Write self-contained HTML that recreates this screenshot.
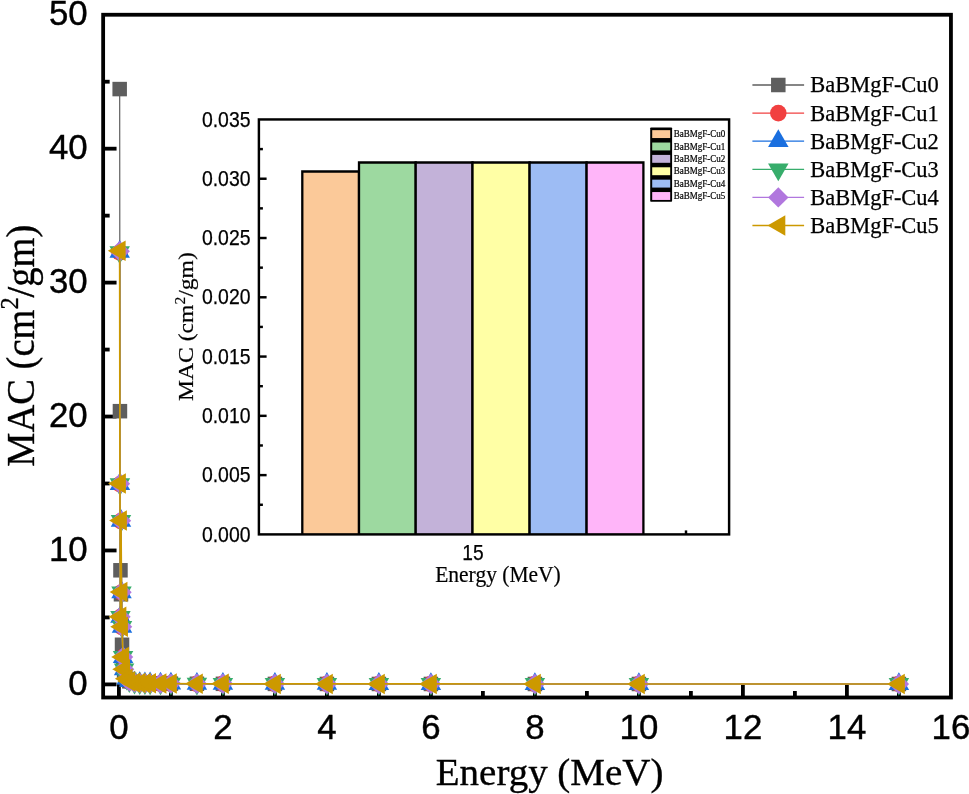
<!DOCTYPE html>
<html lang="en"><head><meta charset="utf-8"><title>MAC vs Energy</title>
<style>html,body{margin:0;padding:0;background:#fff;}body{width:969px;height:794px;overflow:hidden;}svg{display:block;will-change:transform;}.sans{font-family:"Liberation Sans",Arial,sans-serif;}.serif{font-family:"Liberation Serif","Times New Roman",serif;}</style></head><body>
<svg width="969" height="794" viewBox="0 0 969 794">
<rect width="969" height="794" fill="#fff"/>
<g stroke="#000" stroke-width="3.8" fill="none"><line x1="118.90" y1="697.5" x2="118.90" y2="684.10"/><line x1="170.90" y1="697.5" x2="170.90" y2="691.00"/><line x1="222.90" y1="697.5" x2="222.90" y2="684.10"/><line x1="274.90" y1="697.5" x2="274.90" y2="691.00"/><line x1="326.90" y1="697.5" x2="326.90" y2="684.10"/><line x1="378.90" y1="697.5" x2="378.90" y2="691.00"/><line x1="430.90" y1="697.5" x2="430.90" y2="684.10"/><line x1="482.90" y1="697.5" x2="482.90" y2="691.00"/><line x1="534.90" y1="697.5" x2="534.90" y2="684.10"/><line x1="586.90" y1="697.5" x2="586.90" y2="691.00"/><line x1="638.90" y1="697.5" x2="638.90" y2="684.10"/><line x1="690.90" y1="697.5" x2="690.90" y2="691.00"/><line x1="742.90" y1="697.5" x2="742.90" y2="684.10"/><line x1="794.90" y1="697.5" x2="794.90" y2="691.00"/><line x1="846.90" y1="697.5" x2="846.90" y2="684.10"/><line x1="898.90" y1="697.5" x2="898.90" y2="691.00"/><line x1="103.15" y1="684.40" x2="116.55" y2="684.40"/><line x1="103.15" y1="617.43" x2="109.65" y2="617.43"/><line x1="103.15" y1="550.47" x2="116.55" y2="550.47"/><line x1="103.15" y1="483.50" x2="109.65" y2="483.50"/><line x1="103.15" y1="416.54" x2="116.55" y2="416.54"/><line x1="103.15" y1="349.57" x2="109.65" y2="349.57"/><line x1="103.15" y1="282.61" x2="116.55" y2="282.61"/><line x1="103.15" y1="215.64" x2="109.65" y2="215.64"/><line x1="103.15" y1="148.68" x2="116.55" y2="148.68"/><line x1="103.15" y1="81.71" x2="109.65" y2="81.71"/></g>
<rect x="103.15" y="14.75" width="847.80" height="682.75" fill="none" stroke="#000" stroke-width="3.8"/>
<g><polyline points="119.68,89.08 119.94,411.18 120.46,570.29 120.98,594.27 121.50,622.79 122.02,644.76 123.06,662.97 124.10,671.01 126.70,679.04 129.30,681.32 134.50,682.66 139.70,683.06 144.90,683.23 150.10,683.36 160.50,683.50 170.90,683.61 196.90,683.76 222.90,683.82 274.90,683.90 326.90,683.94 378.90,683.96 430.90,683.97 534.90,683.98 638.90,683.98 898.90,683.99" fill="none" stroke="#5e5e5e" stroke-width="1.2" stroke-linejoin="round"/>
<rect x="112.43" y="81.83" width="14.5" height="14.5" fill="#5e5e5e"/><rect x="112.69" y="403.93" width="14.5" height="14.5" fill="#5e5e5e"/><rect x="113.21" y="563.04" width="14.5" height="14.5" fill="#5e5e5e"/><rect x="113.73" y="587.02" width="14.5" height="14.5" fill="#5e5e5e"/><rect x="114.25" y="615.54" width="14.5" height="14.5" fill="#5e5e5e"/><rect x="114.77" y="637.51" width="14.5" height="14.5" fill="#5e5e5e"/><rect x="115.81" y="655.72" width="14.5" height="14.5" fill="#5e5e5e"/><rect x="116.85" y="663.76" width="14.5" height="14.5" fill="#5e5e5e"/><rect x="119.45" y="671.79" width="14.5" height="14.5" fill="#5e5e5e"/><rect x="122.05" y="674.07" width="14.5" height="14.5" fill="#5e5e5e"/><rect x="127.25" y="675.41" width="14.5" height="14.5" fill="#5e5e5e"/><rect x="132.45" y="675.81" width="14.5" height="14.5" fill="#5e5e5e"/><rect x="137.65" y="675.98" width="14.5" height="14.5" fill="#5e5e5e"/><rect x="142.85" y="676.11" width="14.5" height="14.5" fill="#5e5e5e"/><rect x="153.25" y="676.25" width="14.5" height="14.5" fill="#5e5e5e"/><rect x="163.65" y="676.36" width="14.5" height="14.5" fill="#5e5e5e"/><rect x="189.65" y="676.51" width="14.5" height="14.5" fill="#5e5e5e"/><rect x="215.65" y="676.57" width="14.5" height="14.5" fill="#5e5e5e"/><rect x="267.65" y="676.65" width="14.5" height="14.5" fill="#5e5e5e"/><rect x="319.65" y="676.69" width="14.5" height="14.5" fill="#5e5e5e"/><rect x="371.65" y="676.71" width="14.5" height="14.5" fill="#5e5e5e"/><rect x="423.65" y="676.72" width="14.5" height="14.5" fill="#5e5e5e"/><rect x="527.65" y="676.73" width="14.5" height="14.5" fill="#5e5e5e"/><rect x="631.65" y="676.73" width="14.5" height="14.5" fill="#5e5e5e"/><rect x="891.65" y="676.74" width="14.5" height="14.5" fill="#5e5e5e"/></g>
<g><polyline points="119.68,252.47 119.94,484.25 120.46,617.02 120.98,521.08 121.50,592.46 122.02,627.02 123.06,657.05 124.10,669.32 126.70,678.66 129.30,681.20 134.50,682.67 139.70,683.07 144.90,683.24 150.10,683.36 160.50,683.51 170.90,683.61 196.90,683.76 222.90,683.83 274.90,683.91 326.90,683.95 378.90,683.96 430.90,683.97 534.90,683.99 638.90,683.99 898.90,683.98" fill="none" stroke="#f14040" stroke-width="1.4" stroke-linejoin="round"/>
<circle cx="119.68" cy="252.47" r="8.3" fill="#f14040"/><circle cx="119.94" cy="484.25" r="8.3" fill="#f14040"/><circle cx="120.46" cy="617.02" r="8.3" fill="#f14040"/><circle cx="120.98" cy="521.08" r="8.3" fill="#f14040"/><circle cx="121.50" cy="592.46" r="8.3" fill="#f14040"/><circle cx="122.02" cy="627.02" r="8.3" fill="#f14040"/><circle cx="123.06" cy="657.05" r="8.3" fill="#f14040"/><circle cx="124.10" cy="669.32" r="8.3" fill="#f14040"/><circle cx="126.70" cy="678.66" r="8.3" fill="#f14040"/><circle cx="129.30" cy="681.20" r="8.3" fill="#f14040"/><circle cx="134.50" cy="682.67" r="8.3" fill="#f14040"/><circle cx="139.70" cy="683.07" r="8.3" fill="#f14040"/><circle cx="144.90" cy="683.24" r="8.3" fill="#f14040"/><circle cx="150.10" cy="683.36" r="8.3" fill="#f14040"/><circle cx="160.50" cy="683.51" r="8.3" fill="#f14040"/><circle cx="170.90" cy="683.61" r="8.3" fill="#f14040"/><circle cx="196.90" cy="683.76" r="8.3" fill="#f14040"/><circle cx="222.90" cy="683.83" r="8.3" fill="#f14040"/><circle cx="274.90" cy="683.91" r="8.3" fill="#f14040"/><circle cx="326.90" cy="683.95" r="8.3" fill="#f14040"/><circle cx="378.90" cy="683.96" r="8.3" fill="#f14040"/><circle cx="430.90" cy="683.97" r="8.3" fill="#f14040"/><circle cx="534.90" cy="683.99" r="8.3" fill="#f14040"/><circle cx="638.90" cy="683.99" r="8.3" fill="#f14040"/><circle cx="898.90" cy="683.98" r="8.3" fill="#f14040"/></g>
<g><polyline points="119.68,251.87 119.94,483.97 120.46,616.92 120.98,520.85 121.50,592.33 122.02,626.94 123.06,657.01 124.10,669.30 126.70,678.65 129.30,681.19 134.50,682.66 139.70,683.06 144.90,683.24 150.10,683.36 160.50,683.50 170.90,683.61 196.90,683.76 222.90,683.83 274.90,683.91 326.90,683.95 378.90,683.96 430.90,683.97 534.90,683.99 638.90,683.99 898.90,683.98" fill="none" stroke="#1a6fdf" stroke-width="1.4" stroke-linejoin="round"/>
<polygon points="119.68,240.03 109.43,257.78 129.93,257.78" fill="#1a6fdf"/><polygon points="119.94,472.13 109.69,489.88 130.19,489.88" fill="#1a6fdf"/><polygon points="120.46,605.09 110.21,622.84 130.71,622.84" fill="#1a6fdf"/><polygon points="120.98,509.01 110.73,526.76 131.23,526.76" fill="#1a6fdf"/><polygon points="121.50,580.50 111.25,598.25 131.75,598.25" fill="#1a6fdf"/><polygon points="122.02,615.11 111.77,632.86 132.27,632.86" fill="#1a6fdf"/><polygon points="123.06,645.17 112.81,662.93 133.31,662.93" fill="#1a6fdf"/><polygon points="124.10,657.47 113.85,675.22 134.35,675.22" fill="#1a6fdf"/><polygon points="126.70,666.82 116.45,684.57 136.95,684.57" fill="#1a6fdf"/><polygon points="129.30,669.36 119.05,687.11 139.55,687.11" fill="#1a6fdf"/><polygon points="134.50,670.83 124.25,688.58 144.75,688.58" fill="#1a6fdf"/><polygon points="139.70,671.23 129.45,688.98 149.95,688.98" fill="#1a6fdf"/><polygon points="144.90,671.40 134.65,689.16 155.15,689.16" fill="#1a6fdf"/><polygon points="150.10,671.52 139.85,689.28 160.35,689.28" fill="#1a6fdf"/><polygon points="160.50,671.67 150.25,689.42 170.75,689.42" fill="#1a6fdf"/><polygon points="170.90,671.78 160.65,689.53 181.15,689.53" fill="#1a6fdf"/><polygon points="196.90,671.92 186.65,689.68 207.15,689.68" fill="#1a6fdf"/><polygon points="222.90,671.99 212.65,689.74 233.15,689.74" fill="#1a6fdf"/><polygon points="274.90,672.07 264.65,689.82 285.15,689.82" fill="#1a6fdf"/><polygon points="326.90,672.11 316.65,689.86 337.15,689.86" fill="#1a6fdf"/><polygon points="378.90,672.12 368.65,689.88 389.15,689.88" fill="#1a6fdf"/><polygon points="430.90,672.14 420.65,689.89 441.15,689.89" fill="#1a6fdf"/><polygon points="534.90,672.15 524.65,689.90 545.15,689.90" fill="#1a6fdf"/><polygon points="638.90,672.15 628.65,689.90 649.15,689.90" fill="#1a6fdf"/><polygon points="898.90,672.15 888.65,689.90 909.15,689.90" fill="#1a6fdf"/></g>
<g><polyline points="119.68,252.17 119.94,484.11 120.46,616.97 120.98,520.96 121.50,592.40 122.02,626.98 123.06,657.03 124.10,669.31 126.70,678.66 129.30,681.20 134.50,682.66 139.70,683.06 144.90,683.24 150.10,683.36 160.50,683.51 170.90,683.61 196.90,683.76 222.90,683.83 274.90,683.91 326.90,683.95 378.90,683.96 430.90,683.97 534.90,683.99 638.90,683.99 898.90,683.98" fill="none" stroke="#37ad6b" stroke-width="1.4" stroke-linejoin="round"/>
<polygon points="119.68,264.00 109.43,246.25 129.93,246.25" fill="#37ad6b"/><polygon points="119.94,495.94 109.69,478.19 130.19,478.19" fill="#37ad6b"/><polygon points="120.46,628.80 110.21,611.05 130.71,611.05" fill="#37ad6b"/><polygon points="120.98,532.80 110.73,515.04 131.23,515.04" fill="#37ad6b"/><polygon points="121.50,604.23 111.25,586.48 131.75,586.48" fill="#37ad6b"/><polygon points="122.02,638.82 111.77,621.07 132.27,621.07" fill="#37ad6b"/><polygon points="123.06,668.86 112.81,651.11 133.31,651.11" fill="#37ad6b"/><polygon points="124.10,681.15 113.85,663.39 134.35,663.39" fill="#37ad6b"/><polygon points="126.70,690.49 116.45,672.74 136.95,672.74" fill="#37ad6b"/><polygon points="129.30,693.03 119.05,675.28 139.55,675.28" fill="#37ad6b"/><polygon points="134.50,694.50 124.25,676.75 144.75,676.75" fill="#37ad6b"/><polygon points="139.70,694.90 129.45,677.15 149.95,677.15" fill="#37ad6b"/><polygon points="144.90,695.07 134.65,677.32 155.15,677.32" fill="#37ad6b"/><polygon points="150.10,695.19 139.85,677.44 160.35,677.44" fill="#37ad6b"/><polygon points="160.50,695.34 150.25,677.59 170.75,677.59" fill="#37ad6b"/><polygon points="170.90,695.45 160.65,677.69 181.15,677.69" fill="#37ad6b"/><polygon points="196.90,695.59 186.65,677.84 207.15,677.84" fill="#37ad6b"/><polygon points="222.90,695.66 212.65,677.91 233.15,677.91" fill="#37ad6b"/><polygon points="274.90,695.74 264.65,677.99 285.15,677.99" fill="#37ad6b"/><polygon points="326.90,695.78 316.65,678.03 337.15,678.03" fill="#37ad6b"/><polygon points="378.90,695.79 368.65,678.04 389.15,678.04" fill="#37ad6b"/><polygon points="430.90,695.81 420.65,678.06 441.15,678.06" fill="#37ad6b"/><polygon points="534.90,695.82 524.65,678.07 545.15,678.07" fill="#37ad6b"/><polygon points="638.90,695.82 628.65,678.07 649.15,678.07" fill="#37ad6b"/><polygon points="898.90,695.82 888.65,678.06 909.15,678.06" fill="#37ad6b"/></g>
<g><polyline points="119.68,251.30 119.94,483.71 120.46,616.83 120.98,520.63 121.50,592.21 122.02,626.87 123.06,656.97 124.10,669.28 126.70,678.65 129.30,681.19 134.50,682.66 139.70,683.06 144.90,683.24 150.10,683.36 160.50,683.50 170.90,683.61 196.90,683.76 222.90,683.82 274.90,683.90 326.90,683.95 378.90,683.96 430.90,683.97 534.90,683.99 638.90,683.99 898.90,683.98" fill="none" stroke="#b177de" stroke-width="1.4" stroke-linejoin="round"/>
<polygon points="119.68,241.10 129.88,251.30 119.68,261.50 109.48,251.30" fill="#b177de"/><polygon points="119.94,473.51 130.14,483.71 119.94,493.91 109.74,483.71" fill="#b177de"/><polygon points="120.46,606.63 130.66,616.83 120.46,627.03 110.26,616.83" fill="#b177de"/><polygon points="120.98,510.43 131.18,520.63 120.98,530.83 110.78,520.63" fill="#b177de"/><polygon points="121.50,582.01 131.70,592.21 121.50,602.41 111.30,592.21" fill="#b177de"/><polygon points="122.02,616.67 132.22,626.87 122.02,637.07 111.82,626.87" fill="#b177de"/><polygon points="123.06,646.77 133.26,656.97 123.06,667.17 112.86,656.97" fill="#b177de"/><polygon points="124.10,659.08 134.30,669.28 124.10,679.48 113.90,669.28" fill="#b177de"/><polygon points="126.70,668.45 136.90,678.65 126.70,688.85 116.50,678.65" fill="#b177de"/><polygon points="129.30,670.99 139.50,681.19 129.30,691.39 119.10,681.19" fill="#b177de"/><polygon points="134.50,672.46 144.70,682.66 134.50,692.86 124.30,682.66" fill="#b177de"/><polygon points="139.70,672.86 149.90,683.06 139.70,693.26 129.50,683.06" fill="#b177de"/><polygon points="144.90,673.04 155.10,683.24 144.90,693.44 134.70,683.24" fill="#b177de"/><polygon points="150.10,673.16 160.30,683.36 150.10,693.56 139.90,683.36" fill="#b177de"/><polygon points="160.50,673.30 170.70,683.50 160.50,693.70 150.30,683.50" fill="#b177de"/><polygon points="170.90,673.41 181.10,683.61 170.90,693.81 160.70,683.61" fill="#b177de"/><polygon points="196.90,673.56 207.10,683.76 196.90,693.96 186.70,683.76" fill="#b177de"/><polygon points="222.90,673.62 233.10,683.82 222.90,694.02 212.70,683.82" fill="#b177de"/><polygon points="274.90,673.70 285.10,683.90 274.90,694.10 264.70,683.90" fill="#b177de"/><polygon points="326.90,673.75 337.10,683.95 326.90,694.15 316.70,683.95" fill="#b177de"/><polygon points="378.90,673.76 389.10,683.96 378.90,694.16 368.70,683.96" fill="#b177de"/><polygon points="430.90,673.77 441.10,683.97 430.90,694.17 420.70,683.97" fill="#b177de"/><polygon points="534.90,673.79 545.10,683.99 534.90,694.19 524.70,683.99" fill="#b177de"/><polygon points="638.90,673.79 649.10,683.99 638.90,694.19 628.70,683.99" fill="#b177de"/><polygon points="898.90,673.78 909.10,683.98 898.90,694.18 888.70,683.98" fill="#b177de"/></g>
<g><polyline points="119.68,250.87 119.94,483.50 120.46,616.77 120.98,520.47 121.50,592.12 122.02,626.81 123.06,656.94 124.10,669.27 126.70,678.64 129.30,681.19 134.50,682.66 139.70,683.06 144.90,683.23 150.10,683.36 160.50,683.50 170.90,683.61 196.90,683.76 222.90,683.82 274.90,683.90 326.90,683.94 378.90,683.96 430.90,683.97 534.90,683.98 638.90,683.98 898.90,683.98" fill="none" stroke="#cc9900" stroke-width="1.7" stroke-linejoin="round"/>
<polygon points="107.84,250.87 125.60,240.62 125.60,261.12" fill="#cc9900"/><polygon points="108.10,483.50 125.86,473.25 125.86,493.75" fill="#cc9900"/><polygon points="108.62,616.77 126.38,606.52 126.38,627.02" fill="#cc9900"/><polygon points="109.14,520.47 126.90,510.22 126.90,530.72" fill="#cc9900"/><polygon points="109.66,592.12 127.42,581.87 127.42,602.37" fill="#cc9900"/><polygon points="110.18,626.81 127.94,616.56 127.94,637.06" fill="#cc9900"/><polygon points="111.22,656.94 128.98,646.69 128.98,667.19" fill="#cc9900"/><polygon points="112.26,669.27 130.02,659.02 130.02,679.52" fill="#cc9900"/><polygon points="114.86,678.64 132.62,668.39 132.62,688.89" fill="#cc9900"/><polygon points="117.46,681.19 135.22,670.94 135.22,691.44" fill="#cc9900"/><polygon points="122.66,682.66 140.42,672.41 140.42,692.91" fill="#cc9900"/><polygon points="127.86,683.06 145.62,672.81 145.62,693.31" fill="#cc9900"/><polygon points="133.06,683.23 150.82,672.98 150.82,693.48" fill="#cc9900"/><polygon points="138.26,683.36 156.02,673.11 156.02,693.61" fill="#cc9900"/><polygon points="148.66,683.50 166.42,673.25 166.42,693.75" fill="#cc9900"/><polygon points="159.06,683.61 176.82,673.36 176.82,693.86" fill="#cc9900"/><polygon points="185.06,683.76 202.82,673.51 202.82,694.01" fill="#cc9900"/><polygon points="211.06,683.82 228.82,673.57 228.82,694.07" fill="#cc9900"/><polygon points="263.06,683.90 280.82,673.65 280.82,694.15" fill="#cc9900"/><polygon points="315.06,683.94 332.82,673.69 332.82,694.19" fill="#cc9900"/><polygon points="367.06,683.96 384.82,673.71 384.82,694.21" fill="#cc9900"/><polygon points="419.06,683.97 436.82,673.72 436.82,694.22" fill="#cc9900"/><polygon points="523.06,683.98 540.82,673.73 540.82,694.23" fill="#cc9900"/><polygon points="627.06,683.98 644.82,673.73 644.82,694.23" fill="#cc9900"/><polygon points="887.06,683.98 904.82,673.73 904.82,694.23" fill="#cc9900"/></g>
<g class="sans" font-size="34.8" fill="#000" stroke="#000" stroke-width="0.4">
<text x="118.90" y="739.4" text-anchor="middle">0</text>
<text x="222.90" y="739.4" text-anchor="middle">2</text>
<text x="326.90" y="739.4" text-anchor="middle">4</text>
<text x="430.90" y="739.4" text-anchor="middle">6</text>
<text x="534.90" y="739.4" text-anchor="middle">8</text>
<text x="638.90" y="739.4" text-anchor="middle">10</text>
<text x="742.90" y="739.4" text-anchor="middle">12</text>
<text x="846.90" y="739.4" text-anchor="middle">14</text>
<text x="950.90" y="739.4" text-anchor="middle">16</text>
<text x="87.7" y="695.00" text-anchor="end">0</text>
<text x="87.7" y="561.07" text-anchor="end">10</text>
<text x="87.7" y="427.14" text-anchor="end">20</text>
<text x="87.7" y="293.21" text-anchor="end">30</text>
<text x="87.7" y="159.28" text-anchor="end">40</text>
<text x="87.7" y="25.35" text-anchor="end">50</text>
</g>
<g class="serif" fill="#000" stroke="#000" stroke-width="0.35">
<text x="549.6" y="785.4" font-size="38.5" text-anchor="middle" textLength="227.6" lengthAdjust="spacingAndGlyphs">Energy (MeV)</text>
<text transform="translate(34.4,345.7) rotate(-90)" font-size="39.3" text-anchor="middle" textLength="242" lengthAdjust="spacingAndGlyphs">MAC (cm<tspan font-size="25" dy="-16">2</tspan><tspan dy="16">/gm)</tspan></text>
</g>
<g>
<line x1="752.4" y1="85.00" x2="804.1" y2="85.00" stroke="#5e5e5e" stroke-width="1.3"/>
<rect x="771.05" y="77.75" width="14.5" height="14.5" fill="#5e5e5e"/>
<line x1="752.4" y1="113.10" x2="804.1" y2="113.10" stroke="#f14040" stroke-width="1.3"/>
<circle cx="778.30" cy="113.10" r="8.3" fill="#f14040"/>
<line x1="752.4" y1="141.20" x2="804.1" y2="141.20" stroke="#1a6fdf" stroke-width="1.3"/>
<polygon points="778.30,129.36 768.05,147.12 788.55,147.12" fill="#1a6fdf"/>
<line x1="752.4" y1="169.30" x2="804.1" y2="169.30" stroke="#37ad6b" stroke-width="1.3"/>
<polygon points="778.30,181.14 768.05,163.38 788.55,163.38" fill="#37ad6b"/>
<line x1="752.4" y1="197.40" x2="804.1" y2="197.40" stroke="#b177de" stroke-width="1.3"/>
<polygon points="778.30,187.20 788.50,197.40 778.30,207.60 768.10,197.40" fill="#b177de"/>
<line x1="752.4" y1="225.50" x2="804.1" y2="225.50" stroke="#cc9900" stroke-width="1.3"/>
<polygon points="767.56,225.50 785.32,215.25 785.32,235.75" fill="#cc9900"/>
</g>
<g class="serif" font-size="22.3" fill="#000" stroke="#000" stroke-width="0.25">
<text x="810.3" y="92.45" textLength="128.5" lengthAdjust="spacingAndGlyphs">BaBMgF-Cu0</text>
<text x="810.3" y="120.55" textLength="128.5" lengthAdjust="spacingAndGlyphs">BaBMgF-Cu1</text>
<text x="810.3" y="148.65" textLength="128.5" lengthAdjust="spacingAndGlyphs">BaBMgF-Cu2</text>
<text x="810.3" y="176.75" textLength="128.5" lengthAdjust="spacingAndGlyphs">BaBMgF-Cu3</text>
<text x="810.3" y="204.85" textLength="128.5" lengthAdjust="spacingAndGlyphs">BaBMgF-Cu4</text>
<text x="810.3" y="232.95" textLength="128.5" lengthAdjust="spacingAndGlyphs">BaBMgF-Cu5</text>
</g>
<rect x="258.9" y="119.45" width="470.20" height="414.95" fill="#fff" stroke="none"/>
<path d="M302.3,534.4 V171.50 H359.0 V534.4" fill="#fbc999" stroke="#000" stroke-width="2.3" stroke-linejoin="miter"/>
<path d="M359.0,534.4 V162.49 H415.7 V534.4" fill="#9dd9a0" stroke="#000" stroke-width="2.3" stroke-linejoin="miter"/>
<path d="M415.7,534.4 V162.49 H472.5 V534.4" fill="#c3b2d9" stroke="#000" stroke-width="2.3" stroke-linejoin="miter"/>
<path d="M472.5,534.4 V162.49 H529.6 V534.4" fill="#ffffa5" stroke="#000" stroke-width="2.3" stroke-linejoin="miter"/>
<path d="M529.6,534.4 V162.49 H586.6 V534.4" fill="#9dbcf4" stroke="#000" stroke-width="2.3" stroke-linejoin="miter"/>
<path d="M586.6,534.4 V162.49 H643.4 V534.4" fill="#ffb5f9" stroke="#000" stroke-width="2.3" stroke-linejoin="miter"/>
<g stroke="#000" stroke-width="2.45" fill="none"><line x1="258.9" y1="504.76" x2="262.90" y2="504.76"/><line x1="258.9" y1="475.12" x2="266.60" y2="475.12"/><line x1="258.9" y1="445.48" x2="262.90" y2="445.48"/><line x1="258.9" y1="415.84" x2="266.60" y2="415.84"/><line x1="258.9" y1="386.20" x2="262.90" y2="386.20"/><line x1="258.9" y1="356.56" x2="266.60" y2="356.56"/><line x1="258.9" y1="326.92" x2="262.90" y2="326.92"/><line x1="258.9" y1="297.29" x2="266.60" y2="297.29"/><line x1="258.9" y1="267.65" x2="262.90" y2="267.65"/><line x1="258.9" y1="238.01" x2="266.60" y2="238.01"/><line x1="258.9" y1="208.37" x2="262.90" y2="208.37"/><line x1="258.9" y1="178.73" x2="266.60" y2="178.73"/><line x1="258.9" y1="149.09" x2="262.90" y2="149.09"/><line x1="686" y1="534.4" x2="686" y2="530.4"/></g>
<rect x="258.9" y="119.45" width="470.20" height="414.95" fill="none" stroke="#000" stroke-width="2.45"/>
<g class="sans" font-size="22.4" fill="#000" stroke="#000" stroke-width="0.25">
<text x="250.5" y="541.50" text-anchor="end" textLength="48.6" lengthAdjust="spacingAndGlyphs">0.000</text>
<text x="250.5" y="482.22" text-anchor="end" textLength="48.6" lengthAdjust="spacingAndGlyphs">0.005</text>
<text x="250.5" y="422.94" text-anchor="end" textLength="48.6" lengthAdjust="spacingAndGlyphs">0.010</text>
<text x="250.5" y="363.66" text-anchor="end" textLength="48.6" lengthAdjust="spacingAndGlyphs">0.015</text>
<text x="250.5" y="304.39" text-anchor="end" textLength="48.6" lengthAdjust="spacingAndGlyphs">0.020</text>
<text x="250.5" y="245.11" text-anchor="end" textLength="48.6" lengthAdjust="spacingAndGlyphs">0.025</text>
<text x="250.5" y="185.83" text-anchor="end" textLength="48.6" lengthAdjust="spacingAndGlyphs">0.030</text>
<text x="250.5" y="126.55" text-anchor="end" textLength="48.6" lengthAdjust="spacingAndGlyphs">0.035</text>
<text x="472.9" y="559.7" text-anchor="middle" textLength="21.3" lengthAdjust="spacingAndGlyphs">15</text>
</g>
<g class="serif" fill="#000" stroke="#000" stroke-width="0.2">
<text x="498.0" y="582.2" font-size="23" text-anchor="middle" textLength="125.6" lengthAdjust="spacingAndGlyphs">Energy (MeV)</text>
<text transform="translate(193.1,326.6) rotate(-90)" font-size="21.5" text-anchor="middle" textLength="148.8" lengthAdjust="spacingAndGlyphs">MAC (cm<tspan font-size="14" dy="-8.5">2</tspan><tspan dy="8.5">/gm)</tspan></text>
</g>
<rect x="650.2" y="127.4" width="21.9" height="74.4" rx="0.8" fill="#000"/>
<rect x="652.2" y="130.15" width="18.0" height="7.9" fill="#fbc999"/>
<rect x="652.2" y="142.53" width="18.0" height="7.9" fill="#9dd9a0"/>
<rect x="652.2" y="154.91" width="18.0" height="7.9" fill="#c3b2d9"/>
<rect x="652.2" y="167.29" width="18.0" height="7.9" fill="#ffffa5"/>
<rect x="652.2" y="179.67" width="18.0" height="7.9" fill="#9dbcf4"/>
<rect x="652.2" y="192.05" width="18.0" height="7.9" fill="#ffb5f9"/>
<g class="serif" font-size="9.8" fill="#000" stroke="#000" stroke-width="0.2">
<text x="673.7" y="137.20" textLength="51.7" lengthAdjust="spacingAndGlyphs">BaBMgF-Cu0</text>
<text x="673.7" y="149.58" textLength="51.7" lengthAdjust="spacingAndGlyphs">BaBMgF-Cu1</text>
<text x="673.7" y="161.96" textLength="51.7" lengthAdjust="spacingAndGlyphs">BaBMgF-Cu2</text>
<text x="673.7" y="174.34" textLength="51.7" lengthAdjust="spacingAndGlyphs">BaBMgF-Cu3</text>
<text x="673.7" y="186.72" textLength="51.7" lengthAdjust="spacingAndGlyphs">BaBMgF-Cu4</text>
<text x="673.7" y="199.10" textLength="51.7" lengthAdjust="spacingAndGlyphs">BaBMgF-Cu5</text>
</g>
</svg></body></html>
